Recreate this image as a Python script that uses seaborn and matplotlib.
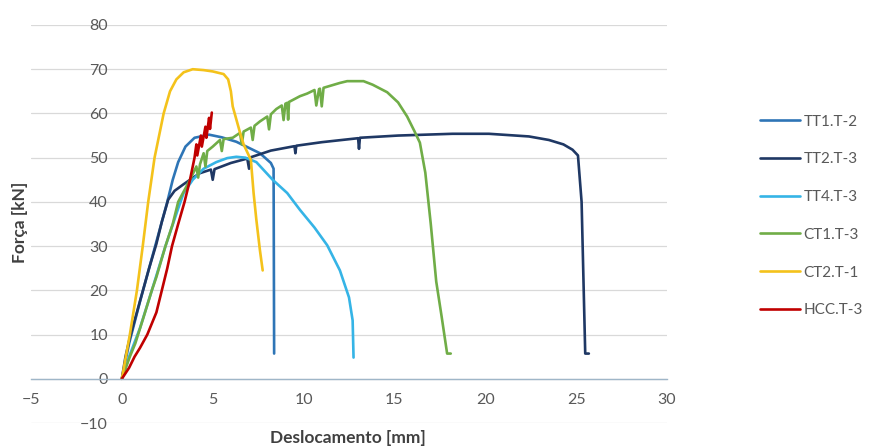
import numpy as np
import pandas as pd
import matplotlib
matplotlib.use("Agg")
import matplotlib.pyplot as plt
import seaborn as sns

# Force–displacement curves for each specimen
series_names = ["TT1.T-2", "TT2.T-3", "TT4.T-3", "CT1.T-3", "CT2.T-1", "HCC.T-3"]
series_colors = ["#2E75B6", "#1F3864", "#35B4E6", "#70AD47", "#F4C21B", "#C00000"]

tt1_x = [0, 0.4, 1.0, 1.5, 2.0, 2.5, 2.8, 3.1, 3.5, 4.0, 4.8, 5.5, 6.3, 7.0, 7.6, 8.2, 8.35, 8.38]
tt1_y = [0, 8, 17.5, 25, 32.5, 40, 45, 49, 52.5, 54.5, 55.2, 54.6, 53.6, 52.2, 51, 48.8, 47.5, 5.7]

tt2_x = [0, 0.2, 0.44, 1.0, 1.5, 1.9, 2.2, 2.55, 2.9, 3.4, 4.0, 4.3, 4.9, 5.0, 5.1, 6.0, 6.9, 7.0, 7.1,
         8.2, 9.5, 9.55, 9.6, 11.0, 13.0, 13.05, 13.1, 15.2, 18.2, 20.2, 22.4, 23.5, 24.3, 24.8, 25.1,
         25.3, 25.5, 25.7]
tt2_y = [0, 5, 9.3, 17.6, 25, 30.5, 35.5, 40.5, 42.5, 44, 45.7, 46.5, 47.3, 45, 47.4, 48.8, 49.8, 47.5, 50.1,
         51.6, 52.6, 51, 52.7, 53.5, 54.4, 52, 54.5, 55, 55.4, 55.4, 54.8, 54, 53, 51.8, 50.5,
         40, 5.7, 5.7]

tt4_x = [0, 0.4, 1.0, 1.65, 2.4, 3.1, 3.4, 3.9, 4.5, 5.2, 5.8, 6.3, 6.8, 7.4, 8.3, 9.1, 9.8, 10.6,
         11.3, 12.0, 12.5, 12.7, 12.75]
tt4_y = [0, 5, 11.5, 20, 30, 38.5, 42, 45, 47.5, 49, 49.9, 50.2, 50, 49, 45, 42, 38.2, 34.2,
         30.2, 24.5, 18.4, 13.2, 4.8]

ct1_x = [0, 0.44, 0.74, 1.2, 1.65, 1.9, 2.4, 2.8, 3.1, 3.75, 4.1, 4.2, 4.3, 4.5, 4.6, 4.7, 5.0, 5.4,
         5.5, 5.6, 6.1, 6.5, 6.6, 6.7, 7.1, 7.2, 7.3, 7.6, 8.0, 8.1, 8.2, 8.5, 8.8, 8.9, 9.0, 9.1,
         9.15, 9.2, 9.8, 10.2, 10.6, 10.7, 10.85, 10.9, 11.0, 11.1, 12.0, 12.4, 13.3, 13.8, 14.6,
         15.2, 15.7, 16.1, 16.4, 16.7, 17.0, 17.3, 17.6, 17.9, 18.1]
ct1_y = [0, 5, 8, 14, 20, 23, 30, 35, 40, 45, 48, 45.5, 48.5, 51, 48, 51.5, 52.5, 54,
         51.5, 54.2, 54.5, 55.6, 53, 55.9, 56.8, 54, 57.2, 58.2, 59.3, 56.4, 59.8, 61, 61.8, 58.5, 62.2, 62.4,
         58.6, 62.6, 63.9, 64.5, 65.3, 61.8, 65.5, 65.6, 61.6, 65.8, 66.9, 67.3, 67.3, 66.5, 64.8,
         62.5, 59.3, 56, 53.4, 46.6, 35, 22, 14, 5.7, 5.7]

ct2_x = [0, 0.44, 0.83, 1.15, 1.45, 1.8, 2.3, 2.65, 3.0, 3.4, 3.9, 4.5, 5.0, 5.6, 5.85, 6.0, 6.1,
         6.5, 6.7, 7.1, 7.25, 7.4, 7.6, 7.75]
ct2_y = [0, 10, 20, 30, 40, 50, 60, 65, 67.7, 69.3, 70, 69.8, 69.5, 68.9, 67.7, 65, 61.6,
         55.7, 53, 49.5, 42, 36, 29, 24.5]

hcc_x = [0, 0.4, 0.7, 1.0, 1.4, 1.9, 2.2, 2.5, 2.76, 3.1, 3.45, 3.75, 4.0, 4.1, 4.15, 4.35, 4.4,
         4.6, 4.65, 4.8, 4.85, 4.95]
hcc_y = [0, 2.5, 5, 7, 10, 15, 20, 25, 30, 35, 40, 45, 50, 53, 50.5, 55, 52.5,
         57, 54.5, 59, 56.5, 60.2]

x_ticks = [-5, 0, 5, 10, 15, 20, 25, 30]
y_ticks = [-10, 0, 10, 20, 30, 40, 50, 60, 70, 80]

curves = [(tt1_x, tt1_y), (tt2_x, tt2_y), (tt4_x, tt4_y),
          (ct1_x, ct1_y), (ct2_x, ct2_y), (hcc_x, hcc_y)]
frames = []
for name, (xs, ys) in zip(series_names, curves):
    frames.append(pd.DataFrame({"Deslocamento": xs, "Força": ys, "Série": name,
                                "ordem": np.arange(len(xs))}))
df = pd.concat(frames, ignore_index=True)

sns.set_theme(style="white")
plt.rcParams["font.family"] = ["Lato", "DejaVu Sans"]

fig = plt.figure(figsize=(8.69, 4.48), dpi=100)
ax = fig.add_axes([31 / 869, 25 / 448, (667 - 31) / 869, (423 - 25) / 448])

sns.lineplot(data=df, x="Deslocamento", y="Força", hue="Série", hue_order=series_names,
             palette=dict(zip(series_names, series_colors)), sort=False, estimator=None,
             linewidth=1.9, ax=ax, legend=False)

ax.set_xlim(-5, 30)
ax.set_ylim(-10, 80)
ax.set_xticks(x_ticks)
ax.set_yticks(y_ticks)
ax.yaxis.grid(True, color="#D9D9D9", linewidth=0.9)
ax.xaxis.grid(False)
ax.set_axisbelow(True)

for side in ["top", "right", "left"]:
    ax.spines[side].set_visible(False)
ax.spines["left"].set_position(("data", 0))
ax.spines["bottom"].set_position(("data", 0))
ax.spines["bottom"].set_color("#9FB6C8")
ax.spines["bottom"].set_linewidth(1.0)

ax.tick_params(axis="y", length=0, pad=10, labelsize=11.5, labelcolor="#595959")
ax.tick_params(axis="x", length=0, pad=10, labelsize=11.5, labelcolor="#595959")

ax.set_xlabel("")
ax.set_ylabel("")
fig.text(348 / 869, 1 - 438 / 448, "Deslocamento [mm]", ha="center", va="center",
         fontsize=12.5, fontweight="bold", color="#404040")
fig.text(20 / 869, 1 - 222 / 448, "Força [kN]", ha="center", va="center", rotation=90,
         fontsize=12.5, fontweight="bold", color="#404040")

handles = [plt.Line2D([], [], color=c, linewidth=1.9) for c in series_colors]
leg = fig.legend(handles, series_names, loc="center left",
                 bbox_to_anchor=(760 / 869, 1 - 216 / 448), frameon=False,
                 fontsize=11, handlelength=2.6, handletextpad=0.25,
                 labelspacing=1.55, borderpad=0, borderaxespad=0)
for t in leg.get_texts():
    t.set_color("#595959")

fig.savefig("out.png", dpi=100)
